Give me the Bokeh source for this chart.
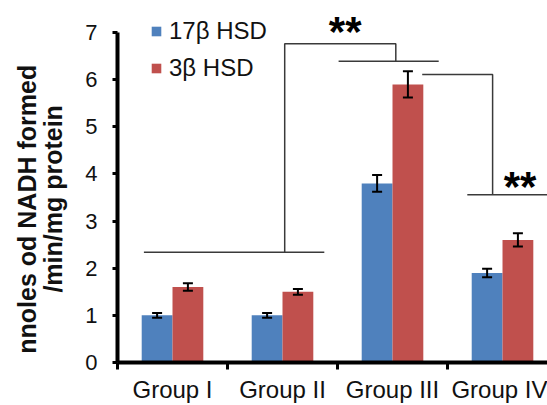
from bokeh.plotting import figure
from bokeh.models import (ColumnDataSource, Whisker, TeeHead, FixedTicker, Legend, LegendItem,
                          Range1d)
from bokeh.core.properties import value
from bokeh.embed import file_html
from bokeh.resources import INLINE

groups = ["Group I", "Group II", "Group III", "Group IV"]
hsd17 = [1.0, 1.0, 3.8, 1.9]
hsd17_err = [0.05, 0.05, 0.18, 0.09]
hsd3 = [1.6, 1.5, 5.9, 2.6]
hsd3_err = [0.08, 0.06, 0.28, 0.14]
y_ticks = [0, 1, 2, 3, 4, 5, 6, 7]

# significance brackets (data coordinates)
bracket_xs = [[0.24, 1.88], [1.52, 1.52, 2.53, 2.53], [2.01, 2.92],
              [2.77, 3.41, 3.41], [3.18, 3.95]]
bracket_ys = [[2.34, 2.34], [2.34, 6.76, 6.76, 6.39], [6.39, 6.39],
              [6.11, 6.11, 3.56], [3.56, 3.56]]
star_x = [2.07, 3.66]
star_y = [7.12, 3.83]
star_text = ["**", "**"]

FONT = "Liberation Sans"
BLUE = "#4F81BD"
RED = "#C0504D"
NB = "\u00a0"

centers = [i + 0.5 for i in range(len(groups))]
off = 0.14
bw = 0.28

p = figure(width=547, height=405, output_backend="svg", toolbar_location=None,
           x_range=Range1d(0, 3.909), y_range=Range1d(0, 7.68),
           min_border_left=117, min_border_right=0, min_border_top=0, min_border_bottom=43)
p.outline_line_color = None
p.xgrid.visible = False
p.ygrid.visible = False
p.background_fill_color = "white"

src = ColumnDataSource(dict(
    xb=[c - off for c in centers], xr=[c + off for c in centers],
    hsd17=hsd17, hsd3=hsd3,
    up17=[v + e for v, e in zip(hsd17, hsd17_err)], lo17=[v - e for v, e in zip(hsd17, hsd17_err)],
    up3=[v + e for v, e in zip(hsd3, hsd3_err)], lo3=[v - e for v, e in zip(hsd3, hsd3_err)],
))

rb = p.vbar(x="xb", top="hsd17", width=bw, bottom=0, source=src, fill_color=BLUE, line_color=None)
rr = p.vbar(x="xr", top="hsd3", width=bw, bottom=0, source=src, fill_color=RED, line_color=None)

for base, up, lo in (("xb", "up17", "lo17"), ("xr", "up3", "lo3")):
    w = Whisker(base=base, upper=up, lower=lo, source=src, line_color="black", line_width=2,
                level="annotation",
                upper_head=TeeHead(size=10, line_width=2, line_color="black"),
                lower_head=TeeHead(size=10, line_width=2, line_color="black"))
    p.add_layout(w)

p.multi_line(xs=bracket_xs, ys=bracket_ys, line_color="#3a3a3a", line_width=1.5)
p.text(x=star_x, y=star_y, text=star_text, text_font=value(FONT), text_font_style="bold",
       text_font_size="42px", text_align="center", text_baseline="middle", text_color="black",
       y_offset=5)

# y axis
ya = p.yaxis[0]
ya.ticker = FixedTicker(ticks=y_ticks)
ya.bounds = (0, 7)
ya.axis_line_width = 4
ya.axis_line_color = "black"
ya.major_tick_in = 0
ya.major_tick_out = 5
ya.major_tick_line_width = 3
ya.minor_tick_line_color = None
ya.major_label_standoff = 15
ya.major_label_text_font = FONT
ya.major_label_text_font_size = "22px"
ya.major_label_text_color = "#111111"
ya.axis_label = "nnoles od NADH formed" + NB * 8 + "\n/min/mg protein" + NB * 5
ya.axis_label_text_font = FONT
ya.axis_label_text_font_style = "bold"
ya.axis_label_text_font_size = "25px"
ya.axis_label_text_line_height = 0.95
ya.axis_label_standoff = 15
ya.axis_label_text_color = "#111111"

# x axis
xa = p.xaxis[0]
xa.ticker = FixedTicker(ticks=centers, minor_ticks=[0, 1, 2, 3, 4])
xa.bounds = (0, 4)
xa.axis_line_width = 4
xa.axis_line_color = "black"
xa.major_tick_line_color = None
xa.major_tick_in = 0
xa.major_tick_out = 7
xa.minor_tick_in = 0
xa.minor_tick_out = 7
xa.minor_tick_line_width = 3
xa.minor_tick_line_color = "black"
xa.major_label_overrides = {c: g for c, g in zip(centers, groups)}
xa.major_label_standoff = 6
xa.major_label_text_font = FONT
xa.major_label_text_font_size = "24px"
xa.major_label_text_color = "#111111"

legend = Legend(items=[LegendItem(label="17β HSD", renderers=[rb]),
                       LegendItem(label="3β HSD", renderers=[rr])],
                location=(33, 280), padding=0, margin=0, spacing=9,
                glyph_width=12, glyph_height=12, label_height=24, label_standoff=7,
                label_text_font=FONT, label_text_font_size="24px", label_text_color="#111111",
                border_line_color=None, background_fill_alpha=0)
p.add_layout(legend)

open("out.html", "w").write(file_html(p, INLINE))
